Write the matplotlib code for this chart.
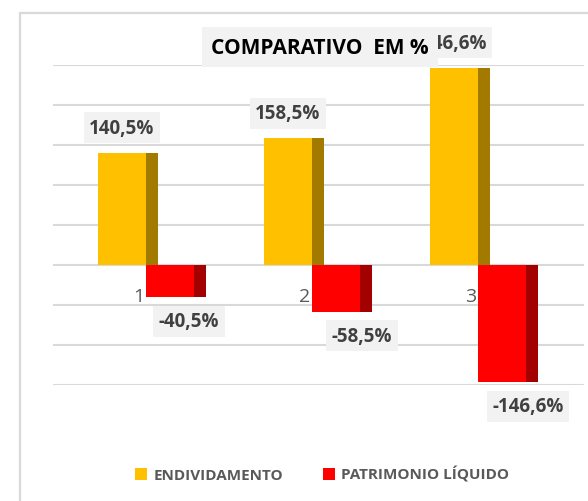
import matplotlib
matplotlib.use("Agg")
import matplotlib.pyplot as plt
from matplotlib.patches import Rectangle, Patch

categories = ["1", "2", "3"]
endividamento = [140.5, 158.5, 246.6]
patrimonio = [-40.5, -58.5, -146.6]
series_names = ["ENDIVIDAMENTO", "PATRIMONIO LÍQUIDO"]
title = "COMPARATIVO  EM %"

W, H = 588, 502
fig = plt.figure(figsize=(W / 100, H / 100), dpi=100)
fig.patch.set_facecolor("white")

def px(x0, y0, x1, y1):
    return [x0 / W, 1 - y1 / H, (x1 - x0) / W, (y1 - y0) / H]

# chart border
fig.patches.append(Rectangle((20 / W, -0.1), 1.2, 1 - 14 / H + 0.1, transform=fig.transFigure,
                             fill=False, edgecolor="#D9D9D9", linewidth=1.6, zorder=0))

ax = fig.add_axes(px(53, 66, 584, 386))
ax.set_facecolor("none")
for s in ax.spines.values():
    s.set_visible(False)
ax.set_ylim(-150, 250)
ax.set_xlim(0.407, 3.605)
ax.set_yticks(range(-150, 251, 50))
ax.yaxis.grid(True, color="#D9D9D9", linewidth=1.5)
ax.set_axisbelow(True)
ax.tick_params(left=False, bottom=False, labelleft=False, labelbottom=False)

x = [i + 1 for i in range(len(categories))]
front_w = 0.287
side_w = 0.072
yel_off = -0.322
red_off = -0.033

ylw, ylw_side = "#FFC000", "#A37A00"
red, red_side = "#FF0000", "#A30000"

ax.bar([xi + yel_off for xi in x], endividamento, width=front_w, align="edge", color=ylw, zorder=3)
ax.bar([xi + yel_off + front_w for xi in x], endividamento, width=side_w, align="edge", color=ylw_side, zorder=3)
ax.bar([xi + red_off for xi in x], patrimonio, width=front_w, align="edge", color=red, zorder=4)
ax.bar([xi + red_off + front_w for xi in x], patrimonio, width=side_w, align="edge", color=red_side, zorder=4)

FONT = "Open Sans"

# category labels
for xi, c in zip(x, categories):
    ax.annotate(c, xy=(xi + red_off, 0), xytext=(-2, -31), textcoords="offset pixels",
                ha="right", va="center", fontsize=14, color="#595959", family=FONT, zorder=2)

lab_kw = dict(textcoords="offset pixels", ha="center", va="center", fontsize=13.5,
              fontweight="bold", color="#404040", family=FONT, zorder=6,
              bbox=dict(boxstyle="square,pad=0.3", facecolor="#F2F2F2", edgecolor="none"))

def fmt(v):
    return f"{v:.1f}%".replace(".", ",")

for xi, v in zip(x, endividamento):
    ax.annotate(fmt(v), xy=(xi + yel_off + front_w / 2, v), xytext=(0, 25), annotation_clip=False, **lab_kw)

neg_dx = [19, 26, 26]
for xi, v, dx in zip(x, patrimonio, neg_dx):
    ax.annotate(fmt(v), xy=(xi + red_off + front_w / 2, v), xytext=(dx, -24), annotation_clip=False, **lab_kw)

# title
fig.text(320 / W, 1 - 48 / H, title, ha="center", va="center", fontsize=15, fontweight="bold",
         color="black", family=FONT, zorder=10,
         bbox=dict(boxstyle="square,pad=0.45", facecolor="#F2F2F2", edgecolor="none"))

handles = [Patch(facecolor=ylw, edgecolor="none"), Patch(facecolor=red, edgecolor="none")]
leg = fig.legend(handles, series_names, loc="center", bbox_to_anchor=(322 / W, 1 - 475 / H), ncol=2,
                 frameon=False, handlelength=0.8, handleheight=0.8, handletextpad=0.4, columnspacing=2.6,
                 prop=dict(family=FONT, weight="bold", size=11))
for t in leg.get_texts():
    t.set_color("#595959")

fig.savefig("out.png", dpi=100)
